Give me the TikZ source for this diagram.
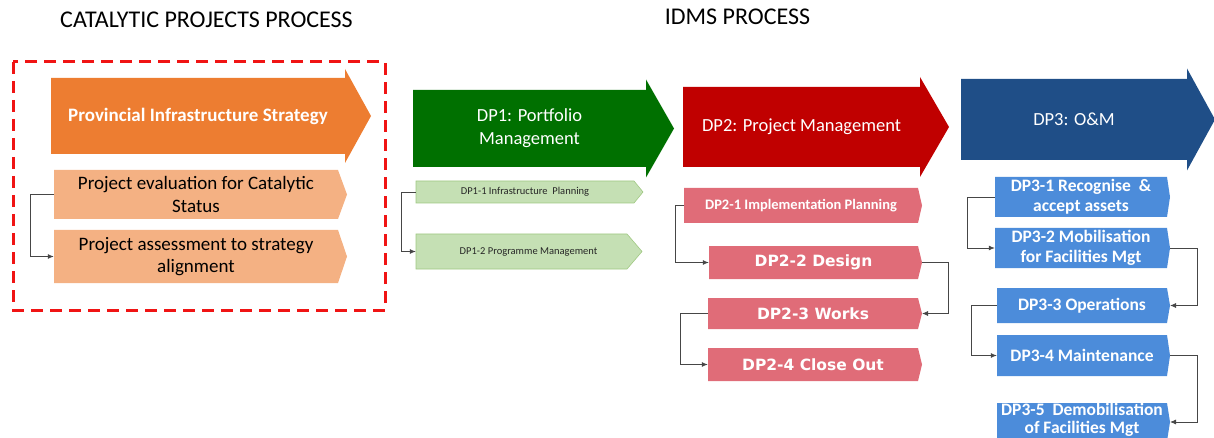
\documentclass[tikz,border=0pt]{standalone}
\usepackage{fontspec}
\setmainfont{Carlito}
\newfontfamily\widefont{DejaVu Sans}
\usetikzlibrary{arrows.meta}
\definecolor{corange}{RGB}{237,125,49}
\definecolor{clorange}{RGB}{244,177,131}
\definecolor{cgreen}{RGB}{0,112,0}
\definecolor{clgreen}{RGB}{197,224,180}
\definecolor{clgreenb}{RGB}{160,200,130}
\definecolor{cred}{RGB}{192,0,0}
\definecolor{cpink}{RGB}{224,108,120}
\definecolor{cblue}{RGB}{31,78,135}
\definecolor{clblue}{RGB}{76,140,218}
\definecolor{cframe}{RGB}{240,20,20}
\definecolor{cline}{RGB}{70,70,70}
\newcommand\fsz[2]{\fontsize{#1}{#2}\selectfont}
% name, x1, y1, x2, y2, tip, fill style, node options, text
\newcommand\chevbox[9]{%
  \path[#7] (#2,#3) -- (#4,#3) -- ({#4+#6},{(#3+#5)/2}) -- (#4,#5) -- (#2,#5) -- cycle;
  \node[inner sep=0pt, align=center, minimum width={(#4-#2)*1pt}, minimum height={(#5-#3)*1pt}, #8] (#1) at ({(#2+#4)/2},{(#3+#5)/2}) {#9};
  \coordinate (#1tip) at ({#4+#6},{(#3+#5)/2});
}
% name, x1, y1, x2, y2, head extension, tip x, fill colour, text
\newcommand\bigarrow[9]{%
  \fill[#8] (#2,#3) -- (#4,#3) -- (#4,{#3-#6}) -- (#7,{(#3+#5)/2}) -- (#4,{#5+#6}) -- (#4,#5) -- (#2,#5) -- cycle;
  \node[bigtxt, minimum width={(#4-#2)*1pt}, minimum height={(#5-#3)*1pt}] (#1) at ({(#2+#4)/2},{(#3+#5)/2}) {#9};
}
\tikzset{
  bigtxt/.style={inner sep=0pt, align=center, text=white, font=\fsz{18.5}{23}},
  titletxt/.style={inner sep=0pt, font=\fsz{24}{28}, text=black},
  conn/.style={draw=cline, line width=0.8pt, -{Latex[length=6pt,width=5pt]}},
  orfill/.style={fill=clorange},
  grfill/.style={fill=clgreen, draw=clgreenb, line width=0.6pt},
  pkfill/.style={fill=cpink},
  blfill/.style={fill=clblue},
  ortxt/.style={font=\fsz{19}{22.5}, text=black},
  grtxt/.style={font=\fsz{10.5}{12}, text=black!85},
  pktxt/.style={font=\fsz{14.5}{17}\bfseries, text=white},
  pkwide/.style={font=\widefont\fsz{15.5}{18}\bfseries, text=white},
  bltxt/.style={font=\fsz{17.5}{20}\bfseries, text=white},
}
\begin{document}
\begin{tikzpicture}[x=1pt, y=-1pt]
\useasboundingbox (0,0) rectangle (1214,438);
\clip (0,0) rectangle (1214,438);

% titles
\node[titletxt] (t1) at (206.5,20) {CATALYTIC PROJECTS PROCESS};
\node[titletxt] (t2) at (737.5,17) {IDMS PROCESS};

% catalytic frame
\draw[cframe, line width=3pt, dash pattern=on 12pt off 7pt] (13,62) rectangle (385,310);

% big arrows
\bigarrow{pis}{51}{78}{345}{154}{9}{371}{corange}{\textbf{\fsz{19}{23}\selectfont Provincial Infrastructure Strategy}}
\bigarrow{dp1}{413}{90}{646}{167}{10.5}{674}{cgreen}{DP1: Portfolio\\Management}
\bigarrow{dp2}{683}{87}{920}{167}{10}{949}{cred}{DP2: Project Management}
\bigarrow{dp3}{961}{79}{1187}{160}{10.5}{1215}{cblue}{DP3: O\&M}

% catalytic sub-steps
\chevbox{pe}{54}{170}{338}{219}{9}{orfill}{ortxt}{Project evaluation for Catalytic\\Status}
\chevbox{pa}{54}{230}{338}{283}{9}{orfill}{ortxt}{Project assessment to strategy\\alignment}

% DP1 sub-steps
\chevbox{d11}{416}{181}{634}{203}{9}{grfill}{grtxt}{DP1-1 Infrastructure\ \ Planning}
\chevbox{d12}{416}{234}{627}{269}{15}{grfill}{grtxt, text depth=0pt}{\hspace*{14pt}DP1-2 Programme Management}

% DP2 sub-steps
\chevbox{d21}{684}{188}{918}{223}{4}{pkfill}{pktxt}{DP2-1 Implementation Planning}
\chevbox{d22}{709}{246}{918}{279}{4}{pkfill}{pkwide}{DP2-2 Design}
\chevbox{d23}{708}{298}{918}{329}{4}{pkfill}{pkwide}{DP2-3 Works}
\chevbox{d24}{708}{348}{918}{381}{4}{pkfill}{pkwide}{DP2-4 Close Out}

% DP3 sub-steps
\chevbox{d31}{995}{177}{1167}{217}{3}{blfill}{bltxt}{DP3-1 Recognise\ \ \&\\accept assets}
\chevbox{d32}{995}{228}{1167}{268}{3}{blfill}{bltxt}{DP3-2 Mobilisation\\for Facilities Mgt}
\chevbox{d33}{997}{288}{1167}{323}{3}{blfill}{bltxt}{DP3-3 Operations}
\chevbox{d34}{997}{335}{1167}{376}{3}{blfill}{bltxt}{DP3-4 Maintenance}
\chevbox{d35}{997}{403}{1167}{441}{3}{blfill}{bltxt, font=\fsz{17.5}{18}\bfseries, yshift=2pt}{DP3-5\ \ Demobilisation\\of Facilities Mgt}

% connectors
\draw[conn] (pe.west) -- ++(-23,0) |- (pa.west);
\draw[conn] (d11.west) -- ++(-14,0) |- (d12.west);
\draw[conn] (d21.west) -- ++(-8,0) |- (d22.west);
\draw[conn] (d22tip) -- ++(26,0) |- (d23tip);
\draw[conn] (d23.west) -- ++(-27,0) |- (d24.west);
\draw[conn] (d31.west) -- ++(-27,0) |- (d32.west);
\draw[conn] (d32tip) -- ++(27,0) |- (d33tip);
\draw[conn] (d33.west) -- ++(-25,0) |- (d34.west);
\draw[conn] (d34tip) -- ++(27,0) |- (d35tip);
\end{tikzpicture}
\end{document}
